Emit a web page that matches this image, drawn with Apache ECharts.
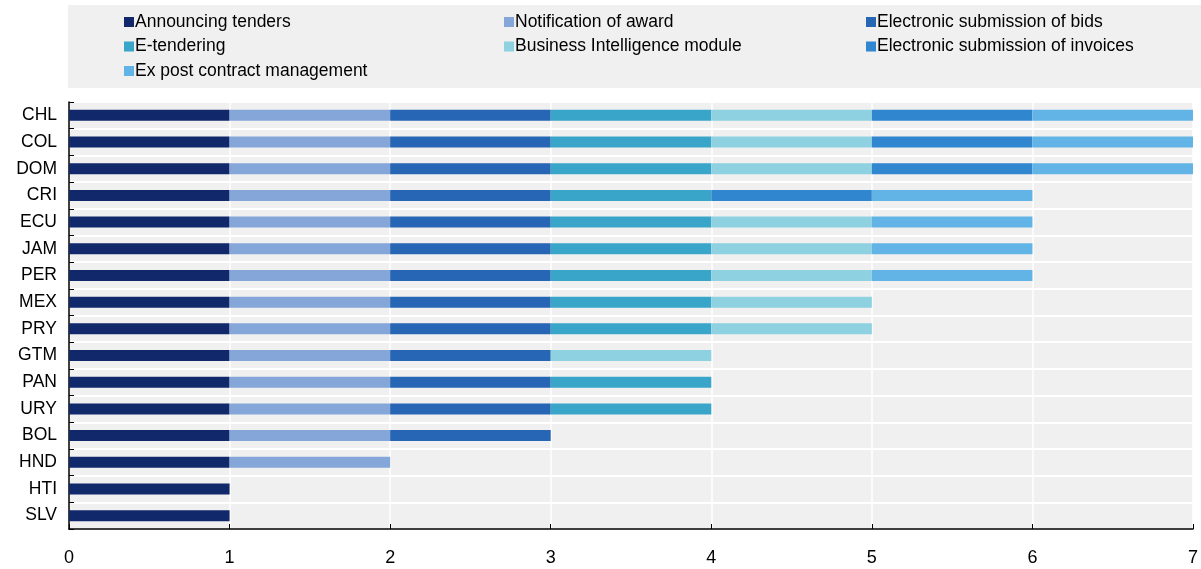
<!DOCTYPE html>
<html>
<head>
<meta charset="utf-8">
<script src="https://cdn.jsdelivr.net/npm/echarts@6/dist/echarts.min.js"></script>
<style>html,body{margin:0;padding:0;background:#fff;}#main{width:1201px;height:569px;}</style>
</head>
<body>
<div id="main"></div>
<script>
var countries = ['CHL','COL','DOM','CRI','ECU','JAM','PER','MEX','PRY','GTM','PAN','URY','BOL','HND','HTI','SLV'];
var seriesNames = ['Announcing tenders','Notification of award','Electronic submission of bids','E-tendering','Business Intelligence module','Electronic submission of invoices','Ex post contract management'];
var colors = ['#11296b','#84a6d8','#2766b4','#39a6c9','#8ed1e1','#3186d0','#63b4e6'];
//                     CHL COL DOM CRI ECU JAM PER MEX PRY GTM PAN URY BOL HND HTI SLV
var announcing     = [  1,  1,  1,  1,  1,  1,  1,  1,  1,  1,  1,  1,  1,  1,  1,  1];
var notification   = [  1,  1,  1,  1,  1,  1,  1,  1,  1,  1,  1,  1,  1,  1,  0,  0];
var bids           = [  1,  1,  1,  1,  1,  1,  1,  1,  1,  1,  1,  1,  1,  0,  0,  0];
var eTendering     = [  1,  1,  1,  1,  1,  1,  1,  1,  1,  0,  1,  1,  0,  0,  0,  0];
var bi             = [  1,  1,  1,  0,  1,  1,  1,  1,  1,  1,  0,  0,  0,  0,  0,  0];
var invoices       = [  1,  1,  1,  1,  0,  0,  0,  0,  0,  0,  0,  0,  0,  0,  0,  0];
var expost         = [  1,  1,  1,  1,  1,  1,  1,  0,  0,  0,  0,  0,  0,  0,  0,  0];
var xTicks = [0,1,2,3,4,5,6,7];

var dataSets = [announcing, notification, bids, eTendering, bi, invoices, expost];
var FONT = '"Liberation Sans", Arial, sans-serif';

var chart = echarts.init(document.getElementById('main'));
var series = seriesNames.map(function(n, i){
  return {
    name: n, type: 'bar', stack: 'total', barWidth: 11,
    itemStyle: {color: colors[i]},
    data: dataSets[i].map(function(v){ return v === 0 ? '-' : v; })
  };
});
function legendCol(names, left){
  return {
    data: names, orient: 'vertical', left: left, top: 12, padding: 0,
    itemWidth: 10, itemHeight: 10, itemGap: 4.5, icon: 'rect',
    selectedMode: false,
    textStyle: {fontFamily: FONT, fontSize: 17.5, color: '#000', lineHeight: 20, padding: [0,0,0,-4]}
  };
}
chart.setOption({
  animation: false,
  color: colors,
  graphic: [{type: 'rect', shape: {x: 68, y: 5, width: 1133, height: 83}, style: {fill: '#f0f0f0'}, silent: true, z: -1}],
  legend: [
    legendCol([seriesNames[0], seriesNames[3], seriesNames[6]], 124),
    legendCol([seriesNames[1], seriesNames[4]], 504),
    legendCol([seriesNames[2], seriesNames[5]], 866)
  ],
  grid: {left: 69, right: 5, top: 102, bottom: 40, show: true, backgroundColor: '#f0f0f0', borderWidth: 0},
  xAxis: {
    type: 'value', min: 0, max: 7, interval: 1,
    axisLine: {show: true, lineStyle: {color: '#000', width: 1.5}},
    axisTick: {show: true, inside: true, length: 5, lineStyle: {color: '#000'}},
    axisLabel: {fontFamily: FONT, fontSize: 18, color: '#000', margin: 20,
      formatter: function(v){ return xTicks.indexOf(v) >= 0 ? String(v) : ''; }},
    splitLine: {show: true, lineStyle: {color: '#ffffff', width: 1.5}}
  },
  yAxis: {
    type: 'category', data: countries, inverse: true,
    axisLine: {show: true, lineStyle: {color: '#000', width: 1.5}},
    axisTick: {show: true, inside: true, length: 5, lineStyle: {color: '#000'}},
    axisLabel: {fontFamily: FONT, fontSize: 17.5, color: '#000', margin: 12, interval: 0},
    splitLine: {show: true, lineStyle: {color: '#ffffff', width: 2}}
  },
  series: series
});
</script>
</body>
</html>
